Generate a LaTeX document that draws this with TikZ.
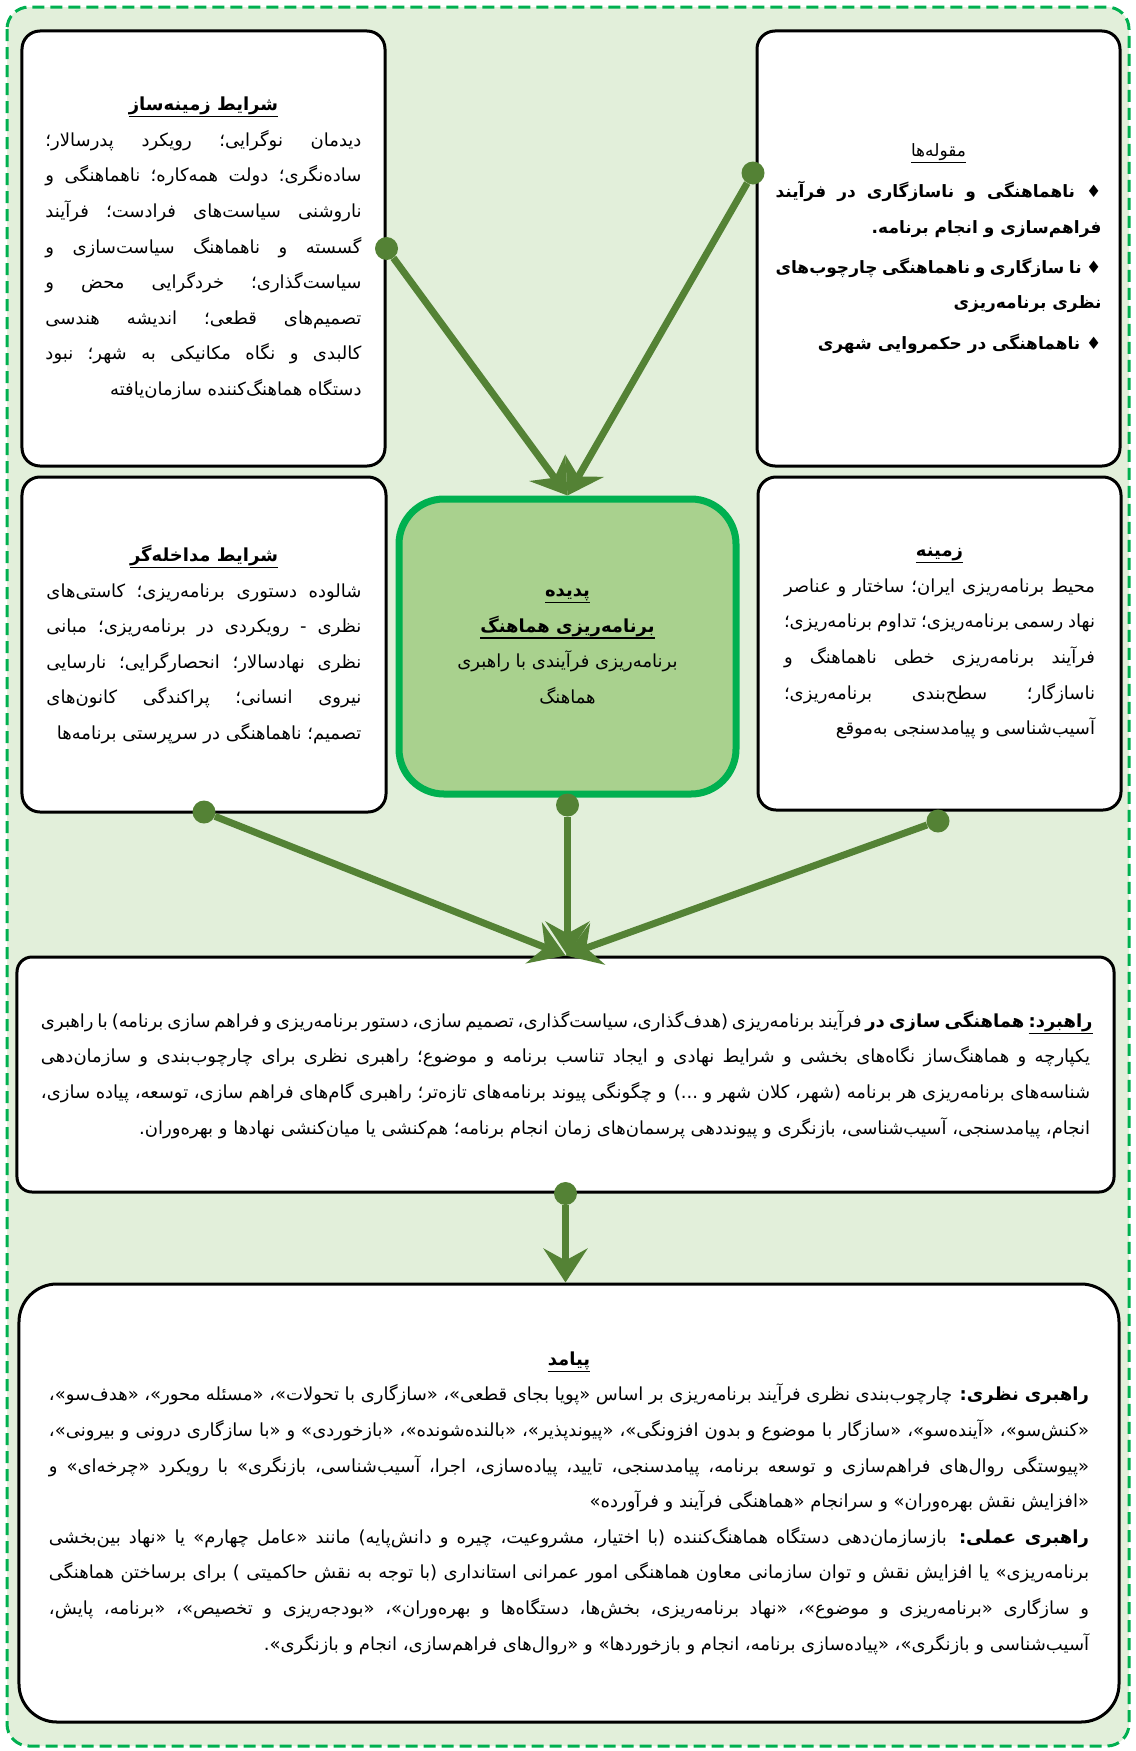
\documentclass[tikz,border=0pt]{standalone}
\usepackage{fontspec}
\usetikzlibrary{arrows.meta}
\TeXXeTstate=1
\newfontfamily\fa[Script=Arabic]{DejaVu Sans}
\definecolor{frameg}{HTML}{00B050}
\definecolor{bgg}{HTML}{E2EFDA}
\definecolor{phfill}{HTML}{A9D18E}
\definecolor{arrg}{HTML}{548235}
\newcommand\RL[1]{\hbox to \hsize{\beginR #1\endR}}
\newcommand\RE[1]{\hbox to \hsize{\hfil\beginR #1\endR}}
\newcommand\RC[1]{\hbox to \hsize{\hfil\beginR #1\endR\hfil}}
\newcommand\ul[1]{\vtop{\hbox{\beginR #1\endR}\kern1bp\hrule height 1.2bp}}
\tikzset{
  wbox/.style={draw=black, line width=3bp, fill=white, rounded corners=18bp, inner sep=0pt},
  phbox/.style={draw=frameg, line width=7bp, fill=phfill, rounded corners=45bp, inner sep=0pt},
  arr/.style={draw=arrg, line width=7bp, -{Stealth[length=34bp, width=44bp, inset=12bp]}},
  dot/.style={circle, fill=arrg, minimum size=23bp, inner sep=0pt},
}
\begin{document}
\begin{tikzpicture}[x=1bp, y=-1bp, font=\fa\fontsize{18bp}{35.6bp}\selectfont]
\useasboundingbox (0,0) rectangle (1135,1751);
\draw[draw=frameg, fill=bgg, line width=3bp, dash pattern=on 12bp off 6bp, rounded corners=22bp] (7,7) rectangle (1129,1746);

% top left
\node[wbox, minimum width=363bp, minimum height=435bp] (tl) at (203.5,248.5) {\vbox{\hsize=316bp
\RC{\bfseries\ul{شرایط زمینه‌ساز}}
\RL{دیدمان نوگرایی؛ رویکرد پدرسالار؛}
\RL{ساده‌نگری؛ دولت همه‌کاره؛ ناهماهنگی و}
\RL{ناروشنی سیاست‌های فرادست؛ فرآیند}
\RL{گسسته و ناهماهنگ سیاست‌سازی و}
\RL{سیاست‌گذاری؛ خردگرایی محض و}
\RL{تصمیم‌های قطعی؛ اندیشه هندسی}
\RL{کالبدی و نگاه مکانیکی به شهر؛ نبود}
\RE{دستگاه هماهنگ‌کننده سازمان‌یافته}}};

% top right
\node[wbox, minimum width=363bp, minimum height=435bp] (tr) at (938.5,248.5) {\vbox{\hsize=326bp
\fontsize{17bp}{35.6bp}\selectfont
\RC{\ul{مقوله‌ها}}
\kern6bp
\bfseries
\RL{♦ ناهماهنگی و ناسازگاری در فرآیند}
\RE{فراهم‌سازی و انجام برنامه.}
\kern4bp
\RL{♦ نا سازگاری و ناهماهنگی چارچوب‌های}
\RE{نظری برنامه‌ریزی}
\kern5bp
\RE{♦ ناهماهنگی در حکمروایی شهری}}};

% middle left
\node[wbox, minimum width=364bp, minimum height=335bp] (ml) at (204,644.5) {\vbox{\hsize=315bp
\RC{\bfseries\ul{شرایط مداخله‌گر}}
\RL{شالوده دستوری برنامه‌ریزی؛ کاستی‌های}
\RL{نظری - رویکردی در برنامه‌ریزی؛ مبانی}
\RL{نظری نهادسالار؛ انحصارگرایی؛ نارسایی}
\RL{نیروی انسانی؛ پراکندگی کانون‌های}
\RE{تصمیم؛ ناهماهنگی در سرپرستی برنامه‌ها}}};

% middle right
\node[wbox, minimum width=363bp, minimum height=333bp] (mr) at (939.5,643.5) {\vbox{\hsize=311bp
\RC{\bfseries\ul{زمینه}}
\RL{محیط برنامه‌ریزی ایران؛ ساختار و عناصر}
\RL{نهاد رسمی برنامه‌ریزی؛ تداوم برنامه‌ریزی؛}
\RL{فرآیند برنامه‌ریزی خطی ناهماهنگ و}
\RL{ناسازگار؛ سطح‌بندی برنامه‌ریزی؛}
\RE{آسیب‌شناسی و پیامدسنجی به‌موقع}}};

% centre
\node[phbox, minimum width=337bp, minimum height=295bp] (ph) at (567.5,646.5) {\vbox{\hsize=300bp
\RC{\bfseries\ul{پدیده}}
\RC{\bfseries\ul{برنامه‌ریزی هماهنگ}}
\RC{برنامه‌ریزی فرآیندی با راهبری}
\RC{هماهنگ}}};

% strategy
\node[wbox, rounded corners=15bp, minimum width=1097bp, minimum height=235bp] (rb) at (565.5,1074.5) {\vbox{\hsize=1049bp
\RL{{\bfseries\ul{راهبرد:} هماهنگی سازی در} فرآیند برنامه‌ریزی (هدف‌گذاری، سیاست‌گذاری، تصمیم سازی، دستور برنامه‌ریزی و فراهم سازی برنامه) با راهبری}
\RL{یکپارچه و هماهنگ‌ساز نگاه‌های بخشی و شرایط نهادی و ایجاد تناسب برنامه و موضوع؛ راهبری نظری برای چارچوب‌بندی و سازمان‌دهی}
\RL{شناسه‌های برنامه‌ریزی هر برنامه (شهر، کلان شهر و ...) و چگونگی پیوند برنامه‌های تازه‌تر؛ راهبری گام‌های فراهم سازی، توسعه، پیاده سازی،}
\RE{انجام، پیامدسنجی، آسیب‌شناسی، بازنگری و پیونددهی پرسمان‌های زمان انجام برنامه؛ هم‌کنشی یا میان‌کنشی نهادها و بهره‌وران.}}};

% outcome
\node[wbox, rounded corners=38bp, minimum width=1100bp, minimum height=438bp] (py) at (569,1503) {\vbox{\hsize=1040bp
\RC{\bfseries\ul{پیامد}}
\RL{{\bfseries راهبری نظری:} چارچوب‌بندی نظری فرآیند برنامه‌ریزی بر اساس «پویا بجای قطعی»، «سازگاری با تحولات»، «مسئله محور»، «هدف‌سو»،}
\RL{«کنش‌سو»، «آینده‌سو»، «سازگار با موضوع و بدون افزونگی»، «پیوندپذیر»، «بالنده‌شونده»، «بازخوردی» و «با سازگاری درونی و بیرونی»،}
\RL{«پیوستگی روال‌های فراهم‌سازی و توسعه برنامه، پیامدسنجی، تایید، پیاده‌سازی، اجرا، آسیب‌شناسی، بازنگری» با رویکرد «چرخه‌ای» و}
\RE{«افزایش نقش بهره‌وران» و سرانجام «هماهنگی فرآیند و فرآورده»}
\RL{{\bfseries راهبری عملی:} بازسازمان‌دهی دستگاه هماهنگ‌کننده (با اختیار، مشروعیت، چیره و دانش‌پایه) مانند «عامل چهارم» یا «نهاد بین‌بخشی}
\RL{برنامه‌ریزی» یا افزایش نقش و توان سازمانی معاون هماهنگی امور عمرانی استانداری (با توجه به نقش حاکمیتی ) برای برساختن هماهنگی}
\RL{و سازگاری «برنامه‌ریزی و موضوع»، «نهاد برنامه‌ریزی، بخش‌ها، دستگاه‌ها و بهره‌وران»، «بودجه‌ریزی و تخصیص»، «برنامه، پایش،}
\RE{آسیب‌شناسی و بازنگری»، «پیاده‌سازی برنامه، انجام و بازخوردها» و «روال‌های فراهم‌سازی، انجام و بازنگری».}}};

% dots
\node[dot] (dtl) at (tl.east) {};
\node[dot] (dtr) at (753,173) {};
\node[dot] (dml) at (204,812) {};
\node[dot] (dph) at (567.5,805) {};
\node[dot] (dmr) at (938,821) {};
\node[dot] (drb) at (rb.south) {};

% arrows
\draw[arr] (dtl) -- (ph.north);
\draw[arr] (dtr) -- (ph.north);
\draw[arr] (dml) -- (rb.north);
\draw[arr] (dph) -- (dph |- rb.north);
\draw[arr] (dmr) -- (rb.north);
\draw[arr] (drb) -- (drb |- py.north);
\end{tikzpicture}
\end{document}
